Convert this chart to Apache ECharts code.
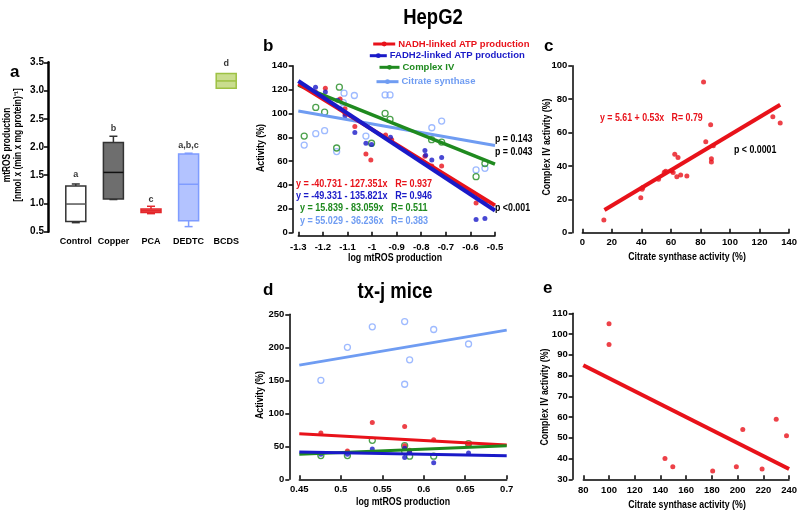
<!DOCTYPE html>
<html><head><meta charset="utf-8">
<script src="https://cdn.jsdelivr.net/npm/echarts@6/dist/echarts.min.js"></script>
<style>html,body{margin:0;padding:0;background:#fff}#c{width:800px;height:512px}</style>
</head><body><div id="c"></div>
<script>
// ---------- Panel a: box plot ----------
const boxCats = ['Control','Copper','PCA','DEDTC','BCDS'];
const boxMin = [0.66, 1.07, 0.82, 0.59, 3.04];
const boxQ1  = [0.68, 1.08, 0.84, 0.695, 3.04];
const boxMed = [0.99, 1.55, 0.87, 1.34, 3.17];
const boxQ3  = [1.31, 2.08, 0.90, 1.875, 3.30];
const boxMax = [1.345, 2.19, 0.95, 1.89, 3.30];
const sigLetters = ['a','b','c','a,b,c','d'];
const sigY = [1.52, 2.33, 1.07, 2.03, 3.47];

// ---------- Panel b: HepG2 ----------
const bNadh = [[-1.23,118],[-1.19,121],[-1.13,112],[-1.11,104],[-1.11,100],[-1.07,89],[-1.025,66],[-1.005,61],[-0.945,82],[-0.92,78],[-0.785,64],[-0.757,56],[-0.717,56],[-0.577,25],[-0.541,26]];
const bFadh = [[-1.23,122],[-1.19,118],[-1.14,111],[-1.13,104],[-1.11,98],[-1.07,84],[-1.025,75],[-1.002,74],[-0.925,80],[-0.785,69],[-0.782,65],[-0.757,61],[-0.717,63],[-0.577,11],[-0.541,12]];
const bCiv  = [[-1.276,81],[-1.229,105],[-1.193,101],[-1.144,71],[-1.133,122],[-1.002,75],[-0.947,100],[-0.927,95],[-0.758,78],[-0.717,76],[-0.577,47],[-0.541,58]];
const bCs   = [[-1.276,73.5],[-1.229,83],[-1.193,85.5],[-1.144,68],[-1.117,109],[-1.114,117],[-1.072,115],[-1.025,81],[-0.947,115.5],[-0.927,115.5],[-0.757,88],[-0.717,93.6],[-0.577,52.6],[-0.541,54]];
const bNadhFit = [[-1.3,124.8],[-0.5,22.9]];
const bFadhFit = [[-1.3,127.2],[-0.5,18.6]];
const bCivFit  = [[-1.3,123.8],[-0.5,57.4]];
const bCsFit   = [[-1.3,102.1],[-0.5,73.1]];
const seriesNames = ['NADH-linked ATP production','FADH2-linked ATP production','Complex IV','Citrate synthase'];
const bEquations = ['y = -40.731 - 127.351x   R= 0.937','y = -49.331 - 135.821x   R= 0.946','y = 15.839 - 83.059x   R= 0.511','y = 55.029 - 36.236x   R= 0.383'];
const bPvals = ['p = 0.143','p = 0.043','p <0.001'];

// ---------- Panel c ----------
const cPts = [[14.6,7.6],[39.6,21],[40.5,26],[41,27],[51.6,32],[55.5,36.2],[56.5,36.8],[60.4,37],[61.5,36],[62.6,47],[64.8,45],[64,33.5],[66.6,34.5],[70.8,34],[82.1,90.2],[83.6,54.5],[86.9,64.7],[87.4,44.3],[87.4,42.3],[88.7,52],[129,69.5],[134,65.7]];
const cFit = [[15,13.6],[134,76.6]];
const cEquation = 'y = 5.61 + 0.53x   R= 0.79';
const cPval = 'p < 0.0001';

// ---------- Panel d: tx-j mice ----------
const dCs   = [[0.476,150],[0.508,200],[0.538,231],[0.577,239],[0.577,144],[0.583,181],[0.612,227],[0.654,205]];
const dNadh = [[0.476,70],[0.508,43],[0.538,86],[0.577,80],[0.577,51],[0.583,44],[0.612,60],[0.654,52]];
const dFadh = [[0.476,38],[0.508,38],[0.538,46],[0.577,47],[0.577,33],[0.583,41],[0.612,25],[0.654,40]];
const dCiv  = [[0.476,36],[0.508,36],[0.538,59],[0.577,51],[0.577,42],[0.583,35],[0.612,35],[0.654,54]];
const dCsFit   = [[0.45,173],[0.7,226]];
const dNadhFit = [[0.45,69],[0.7,52]];
const dCivFit  = [[0.45,38],[0.7,51]];
const dFadhFit = [[0.45,41.5],[0.7,35.5]];

// ---------- Panel e ----------
const ePts = [[100,105],[100,95],[143.5,40],[149.6,36],[180.6,34],[199,36],[204,54],[219,35],[230,59],[238,51]];
const eFit = [[80,85],[240,35]];

// ---------- styles ----------
const FN = "'Liberation Sans',Arial,sans-serif";
const NS = 0.84; // horizontal squeeze for annotation text (narrow face look)
const RED = '#e8121a', BLUE = '#1a1ac8', GREEN = '#1f8a1f', LBLUE = '#6f9cf2', LBMARK = '#86a9ff';
const boxFill = ['#ffffff','#6e6e6e','#f05a5a','#b3c3ff','#c9dd8e'];
const boxStroke = ['#333333','#333333','#e3262a','#7f9cff','#9dc143'];
const boxMedCol = ['#555555','#111111','#e3262a','#7f9cff','#9dc143'];

function yAx(gi, min, max, interval, offset, extra) {
  return Object.assign({
    type: 'value', gridIndex: gi, min, max, interval, offset,
    axisLine: {show: true, onZero: false, lineStyle: {color: '#000', width: 1.5}},
    axisTick: {show: true, length: 4, lineStyle: {color: '#000', width: 1.5}},
    axisLabel: {color: '#000', fontFamily: FN, fontWeight: 'bold', fontSize: 9.5, margin: 5},
    splitLine: {show: false}
  }, extra || {});
}
function xAx(gi, min, max, interval, offset, margin) {
  return {
    type: 'value', gridIndex: gi, min, max, interval, offset,
    axisLine: {show: true, onZero: false, lineStyle: {color: '#000', width: 1.5}},
    axisTick: {show: true, inside: true, length: 4, lineStyle: {color: '#000', width: 1.5}},
    axisLabel: {color: '#000', fontFamily: FN, fontWeight: 'bold', fontSize: 9.5, margin: margin},
    splitLine: {show: false}
  };
}
function sc(gi, data, color, hollow, name) {
  return {
    type: 'scatter', name: name, xAxisIndex: gi, yAxisIndex: gi, data: data, z: 2,
    symbol: 'circle', symbolSize: hollow ? 6 : 5, silent: true,
    itemStyle: hollow ? {color: 'rgba(255,255,255,0)', borderColor: color, borderWidth: 1.3} : {color: color}
  };
}
function fit(gi, data, color, width, name) {
  return {
    type: 'line', name: name, xAxisIndex: gi, yAxisIndex: gi, data: data, z: 4,
    symbol: 'circle', symbolSize: 5, showSymbol: false, silent: true,
    itemStyle: {color: color}, lineStyle: {color: color, width: width}
  };
}
function T(text, x, y, o) {
  o = o || {};
  return {
    type: 'text', x: x, y: y, rotation: o.rot || 0, silent: true,
    scaleX: o.sx == null ? NS : o.sx,
    style: {text: text, fill: o.color || '#000', fontFamily: FN, fontSize: o.size || 10,
      fontWeight: o.weight || 'bold', align: o.align || 'left', verticalAlign: 'middle'}
  };
}
const R90 = Math.PI / 2;
const bEqColors = [RED, BLUE, GREEN, LBLUE];
const bEqX = [296, 296, 300, 300];
const bEqY = [184.5, 196.5, 208.5, 221];
const bPY = [139.3, 151.7, 208.3];

const graphics = [
  T('HepG2', 433, 18, {size: 22, align: 'center'}),
  T('tx-j mice', 395, 292, {size: 22, align: 'center'}),
  T('a', 10, 72, {size: 17, sx: 1}), T('b', 263, 46, {size: 17, sx: 1}), T('c', 544, 46, {size: 17, sx: 1}),
  T('d', 263, 290, {size: 17, sx: 1}), T('e', 543, 288, {size: 17, sx: 1}),
  T('mtROS production', 7, 145, {rot: R90, align: 'center'}),
  T('[nmol x (min x mg protein)\u207B\u00B9]', 18, 145, {rot: R90, align: 'center'}),
  T('Activity (%)', 261, 148, {rot: R90, align: 'center', size: 10.5}),
  T('log mtROS production', 395, 258, {align: 'center', size: 10.5}),
  T('Complex IV activity (%)', 547, 147, {rot: R90, align: 'center', size: 10.5}),
  T('Citrate synthase activity (%)', 687, 257, {align: 'center', size: 10.5}),
  T(cEquation, 600, 118.3, {color: RED, size: 10.5}),
  T(cPval, 734, 150, {size: 10.5}),
  T('Activity (%)', 260, 395, {rot: R90, align: 'center', size: 10.5}),
  T('log mtROS production', 403, 502, {align: 'center', size: 10.5}),
  T('Complex IV activity (%)', 545, 397, {rot: R90, align: 'center', size: 10.5}),
  T('Citrate synthase activity (%)', 687, 505, {align: 'center', size: 10.5})
];
bEquations.forEach((e, i) => graphics.push(T(e, bEqX[i], bEqY[i], {color: bEqColors[i], size: 10.5, sx: 0.86})));
bPvals.forEach((p, i) => graphics.push(T(p, 495, bPY[i], {size: 10.5})));

const legPos = [[371.7, 45], [368.3, 56.7], [378, 68.3], [375, 82.7]];
const legW = [22, 17, 20, 22];
const legends = seriesNames.map((n, i) => ({
  data: [n], left: legPos[i][0], top: legPos[i][1] - 6, padding: 0, itemWidth: legW[i], itemHeight: 6,
  itemGap: 0, selectedMode: false,
  textStyle: {color: bEqColors[i], fontFamily: FN, fontWeight: 'bold', fontSize: 9.5, padding: [0, 0, 0, -2]},
  lineStyle: {width: 3}
}));

const chart = echarts.init(document.getElementById('c'), null, {renderer: 'canvas'});
chart.setOption({
  animation: false,
  backgroundColor: '#fff',
  legend: legends,
  graphic: graphics,
  grid: [
    {left: 57, top: 62.3, width: 188, height: 169.4},
    {left: 298.3, top: 65.7, width: 196.7, height: 167},
    {left: 582.3, top: 65.7, width: 211, height: 167},
    {left: 299.3, top: 314.3, width: 207.4, height: 165},
    {left: 583.3, top: 313.3, width: 208.4, height: 166}
  ],
  xAxis: [
    {type: 'category', gridIndex: 0, data: boxCats, axisLine: {show: false}, axisTick: {show: false},
     axisLabel: {interval: 0, color: '#000', fontFamily: FN, fontWeight: 'bold', fontSize: 9, margin: 5}},
    xAx(1, -1.3, -0.5, 0.1, 3, 7),
    xAx(2, 0, 140, 20, 0, 5),
    xAx(3, 0.45, 0.7, 0.05, 0, 5),
    xAx(4, 80, 240, 20, 0, 6)
  ],
  yAxis: [
    yAx(0, 0.5, 3.5, 0.5, 9, {axisLine: {show: true, lineStyle: {color: '#000', width: 2.5}},
      axisLabel: {color: '#000', fontFamily: FN, fontWeight: 'bold', fontSize: 10, margin: 4, formatter: v => v.toFixed(1)}}),
    yAx(1, 0, 140, 20, 5.6),
    yAx(2, 0, 100, 20, 10),
    yAx(3, 0, 250, 50, 10),
    yAx(4, 30, 110, 10, 10.6)
  ],
  series: [
    {
      type: 'custom', xAxisIndex: 0, yAxisIndex: 0, silent: true,
      data: boxCats.map((c, i) => [i, boxMin[i], boxQ1[i], boxMed[i], boxQ3[i], boxMax[i]]),
      encode: {x: 0, y: [1, 2, 3, 4, 5]},
      renderItem: function (params, api) {
        const i = params.dataIndex;
        const x = api.coord([i, api.value(3)])[0];
        const yy = k => api.coord([i, api.value(k)])[1];
        const yMin = yy(1), yQ1 = yy(2), yMed = yy(3), yQ3 = yy(4), yMax = yy(5);
        const hw = 10, cw = 4;
        const ls = {stroke: boxStroke[i], lineWidth: 1.5};
        const ch = [];
        if (yQ3 - yMax > 0.5) {
          ch.push({type: 'line', shape: {x1: x, y1: yQ3, x2: x, y2: yMax}, style: ls});
          ch.push({type: 'line', shape: {x1: x - cw, y1: yMax, x2: x + cw, y2: yMax}, style: ls});
        }
        if (yMin - yQ1 > 0.5) {
          ch.push({type: 'line', shape: {x1: x, y1: yQ1, x2: x, y2: yMin}, style: ls});
          ch.push({type: 'line', shape: {x1: x - cw, y1: yMin, x2: x + cw, y2: yMin}, style: ls});
        }
        ch.push({type: 'rect', shape: {x: x - hw, y: yQ3, width: 2 * hw, height: yQ1 - yQ3},
          style: {fill: boxFill[i], stroke: boxStroke[i], lineWidth: 1.5}});
        ch.push({type: 'line', shape: {x1: x - hw, y1: yMed, x2: x + hw, y2: yMed},
          style: {stroke: boxMedCol[i], lineWidth: 1.5}});
        return {type: 'group', children: ch};
      }
    },
    {
      type: 'scatter', xAxisIndex: 0, yAxisIndex: 0, silent: true, symbolSize: 1,
      itemStyle: {color: 'rgba(0,0,0,0)'},
      data: sigY.map((v, i) => [i, v]),
      label: {show: true, position: 'inside', formatter: p => sigLetters[p.dataIndex],
        color: '#000', fontFamily: FN, fontWeight: 'bold', fontSize: 9}
    },
    sc(1, bCs, LBMARK, true), sc(1, bCiv, GREEN, true), sc(1, bNadh, RED, false), sc(1, bFadh, BLUE, false),
    fit(1, bCsFit, LBLUE, 3, seriesNames[3]),
    fit(1, bCivFit, GREEN, 3.5, seriesNames[2]),
    fit(1, bNadhFit, RED, 4, seriesNames[0]),
    fit(1, bFadhFit, BLUE, 4, seriesNames[1]),
    sc(2, cPts, RED, false),
    fit(2, cFit, RED, 4, 'c-fit'),
    sc(3, dCs, LBMARK, true), sc(3, dCiv, GREEN, true), sc(3, dNadh, RED, false), sc(3, dFadh, BLUE, false),
    fit(3, dCsFit, LBLUE, 3, 'd-cs'),
    fit(3, dNadhFit, RED, 3, 'd-nadh'),
    fit(3, dCivFit, GREEN, 3, 'd-civ'),
    fit(3, dFadhFit, BLUE, 3, 'd-fadh'),
    sc(4, ePts, RED, false),
    fit(4, eFit, RED, 4, 'e-fit')
  ]
});
</script></body></html>
